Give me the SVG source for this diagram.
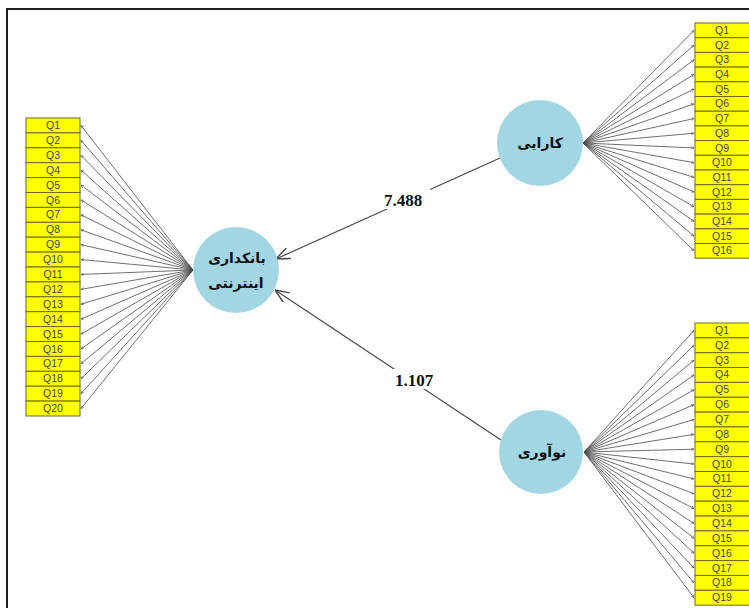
<svg xmlns="http://www.w3.org/2000/svg" width="749" height="608" viewBox="0 0 749 608">
<style>
.frame{fill:none;stroke:#222;stroke-width:2}
.box{fill:#ffff00;stroke:#6e6a1a;stroke-width:1}
.q{font-family:"Liberation Sans",Arial,sans-serif;font-size:10.5px;fill:#444;text-anchor:middle}
.lat{fill:#a3d6e3}
.lt{font-family:"DejaVu Sans","Noto Sans",sans-serif;font-size:14px;font-weight:bold;fill:#111;text-anchor:middle}
.ind{stroke:#4a4a4a;stroke-width:0.8;fill:none;marker-end:url(#sm)}
.path{stroke:#444;stroke-width:1.1;fill:none;marker-end:url(#big)}
.coef{font-family:"Liberation Serif","Times New Roman",serif;font-size:17px;font-weight:bold;fill:#111;text-anchor:middle}
</style>
<defs>
<marker id="sm" viewBox="0 0 4 4" refX="4" refY="2" markerWidth="3" markerHeight="3" orient="auto" markerUnits="userSpaceOnUse"><path d="M0,0 L4,2 L0,4" fill="none" stroke="#4a4a4a" stroke-width="0.7"/></marker>
<marker id="big" viewBox="0 0 12 10" refX="12" refY="5" markerWidth="14" markerHeight="12" orient="auto" markerUnits="userSpaceOnUse"><path d="M0,0 L12,5 L0,10" fill="none" stroke="#444" stroke-width="1.2"/></marker>
</defs>
<rect x="0" y="0" width="749" height="608" fill="#fff"/>
<rect class="frame" x="7" y="9" width="760" height="620"/>

<g id="connectors">
<line class="ind" x1="193" y1="270" x2="81" y2="125.45"/>
<line class="ind" x1="193" y1="270" x2="81" y2="140.35"/>
<line class="ind" x1="193" y1="270" x2="81" y2="155.25"/>
<line class="ind" x1="193" y1="270" x2="81" y2="170.15"/>
<line class="ind" x1="193" y1="270" x2="81" y2="185.05"/>
<line class="ind" x1="193" y1="270" x2="81" y2="199.95"/>
<line class="ind" x1="193" y1="270" x2="81" y2="214.85"/>
<line class="ind" x1="193" y1="270" x2="81" y2="229.75"/>
<line class="ind" x1="193" y1="270" x2="81" y2="244.65"/>
<line class="ind" x1="193" y1="270" x2="81" y2="259.55"/>
<line class="ind" x1="193" y1="270" x2="81" y2="274.45"/>
<line class="ind" x1="193" y1="270" x2="81" y2="289.35"/>
<line class="ind" x1="193" y1="270" x2="81" y2="304.25"/>
<line class="ind" x1="193" y1="270" x2="81" y2="319.15"/>
<line class="ind" x1="193" y1="270" x2="81" y2="334.05"/>
<line class="ind" x1="193" y1="270" x2="81" y2="348.95"/>
<line class="ind" x1="193" y1="270" x2="81" y2="363.85"/>
<line class="ind" x1="193" y1="270" x2="81" y2="378.75"/>
<line class="ind" x1="193" y1="270" x2="81" y2="393.65"/>
<line class="ind" x1="193" y1="270" x2="81" y2="408.55"/>
<line class="ind" x1="583" y1="143" x2="694" y2="30.35"/>
<line class="ind" x1="583" y1="143" x2="694" y2="45.05"/>
<line class="ind" x1="583" y1="143" x2="694" y2="59.75"/>
<line class="ind" x1="583" y1="143" x2="694" y2="74.45"/>
<line class="ind" x1="583" y1="143" x2="694" y2="89.15"/>
<line class="ind" x1="583" y1="143" x2="694" y2="103.85"/>
<line class="ind" x1="583" y1="143" x2="694" y2="118.55"/>
<line class="ind" x1="583" y1="143" x2="694" y2="133.25"/>
<line class="ind" x1="583" y1="143" x2="694" y2="147.95"/>
<line class="ind" x1="583" y1="143" x2="694" y2="162.65"/>
<line class="ind" x1="583" y1="143" x2="694" y2="177.35"/>
<line class="ind" x1="583" y1="143" x2="694" y2="192.05"/>
<line class="ind" x1="583" y1="143" x2="694" y2="206.75"/>
<line class="ind" x1="583" y1="143" x2="694" y2="221.45"/>
<line class="ind" x1="583" y1="143" x2="694" y2="236.15"/>
<line class="ind" x1="583" y1="143" x2="694" y2="250.85"/>
<line class="ind" x1="584" y1="452" x2="694" y2="330.4"/>
<line class="ind" x1="584" y1="452" x2="694" y2="345.25"/>
<line class="ind" x1="584" y1="452" x2="694" y2="360.1"/>
<line class="ind" x1="584" y1="452" x2="694" y2="374.95"/>
<line class="ind" x1="584" y1="452" x2="694" y2="389.8"/>
<line class="ind" x1="584" y1="452" x2="694" y2="404.65"/>
<line class="ind" x1="584" y1="452" x2="694" y2="419.5"/>
<line class="ind" x1="584" y1="452" x2="694" y2="434.35"/>
<line class="ind" x1="584" y1="452" x2="694" y2="449.2"/>
<line class="ind" x1="584" y1="452" x2="694" y2="464.05"/>
<line class="ind" x1="584" y1="452" x2="694" y2="478.9"/>
<line class="ind" x1="584" y1="452" x2="694" y2="493.75"/>
<line class="ind" x1="584" y1="452" x2="694" y2="508.6"/>
<line class="ind" x1="584" y1="452" x2="694" y2="523.45"/>
<line class="ind" x1="584" y1="452" x2="694" y2="538.3"/>
<line class="ind" x1="584" y1="452" x2="694" y2="553.15"/>
<line class="ind" x1="584" y1="452" x2="694" y2="568"/>
<line class="ind" x1="584" y1="452" x2="694" y2="582.85"/>
<line class="ind" x1="584" y1="452" x2="694" y2="597.7"/>
<line class="path" x1="500" y1="158" x2="276" y2="259"/>
<line class="path" x1="501" y1="440" x2="275" y2="290"/>
<rect x="376" y="189" width="54" height="20" fill="#fff"/>
<text class="coef" x="403" y="206">7.488</text>
<rect x="388" y="369" width="52" height="20" fill="#fff"/>
<text class="coef" x="414" y="386">1.107</text>
</g>

<g id="n_bank"><circle class="lat" cx="236" cy="270" r="43"/><text class="lt" x="237" y="263" direction="rtl">بانکداری</text><text class="lt" x="236" y="288" direction="rtl">اینترنتی</text></g>
<g id="n_karaei"><circle class="lat" cx="540" cy="143" r="43"/><text class="lt" x="540" y="148" direction="rtl">کارایی</text></g>
<g id="n_noavari"><circle class="lat" cx="541" cy="452" r="42"/><text class="lt" x="542" y="457" direction="rtl">نوآوری</text></g>

<g id="left_items">
<g id="L1"><rect class="box" x="26" y="118" width="54" height="14.9"/><text class="q" x="53" y="129">Q1</text></g>
<g id="L2"><rect class="box" x="26" y="132.9" width="54" height="14.9"/><text class="q" x="53" y="143.9">Q2</text></g>
<g id="L3"><rect class="box" x="26" y="147.8" width="54" height="14.9"/><text class="q" x="53" y="158.8">Q3</text></g>
<g id="L4"><rect class="box" x="26" y="162.7" width="54" height="14.9"/><text class="q" x="53" y="173.7">Q4</text></g>
<g id="L5"><rect class="box" x="26" y="177.6" width="54" height="14.9"/><text class="q" x="53" y="188.6">Q5</text></g>
<g id="L6"><rect class="box" x="26" y="192.5" width="54" height="14.9"/><text class="q" x="53" y="203.5">Q6</text></g>
<g id="L7"><rect class="box" x="26" y="207.4" width="54" height="14.9"/><text class="q" x="53" y="218.4">Q7</text></g>
<g id="L8"><rect class="box" x="26" y="222.3" width="54" height="14.9"/><text class="q" x="53" y="233.3">Q8</text></g>
<g id="L9"><rect class="box" x="26" y="237.2" width="54" height="14.9"/><text class="q" x="53" y="248.2">Q9</text></g>
<g id="L10"><rect class="box" x="26" y="252.1" width="54" height="14.9"/><text class="q" x="53" y="263.1">Q10</text></g>
<g id="L11"><rect class="box" x="26" y="267" width="54" height="14.9"/><text class="q" x="53" y="278">Q11</text></g>
<g id="L12"><rect class="box" x="26" y="281.9" width="54" height="14.9"/><text class="q" x="53" y="292.9">Q12</text></g>
<g id="L13"><rect class="box" x="26" y="296.8" width="54" height="14.9"/><text class="q" x="53" y="307.8">Q13</text></g>
<g id="L14"><rect class="box" x="26" y="311.7" width="54" height="14.9"/><text class="q" x="53" y="322.7">Q14</text></g>
<g id="L15"><rect class="box" x="26" y="326.6" width="54" height="14.9"/><text class="q" x="53" y="337.6">Q15</text></g>
<g id="L16"><rect class="box" x="26" y="341.5" width="54" height="14.9"/><text class="q" x="53" y="352.5">Q16</text></g>
<g id="L17"><rect class="box" x="26" y="356.4" width="54" height="14.9"/><text class="q" x="53" y="367.4">Q17</text></g>
<g id="L18"><rect class="box" x="26" y="371.3" width="54" height="14.9"/><text class="q" x="53" y="382.3">Q18</text></g>
<g id="L19"><rect class="box" x="26" y="386.2" width="54" height="14.9"/><text class="q" x="53" y="397.2">Q19</text></g>
<g id="L20"><rect class="box" x="26" y="401.1" width="54" height="14.9"/><text class="q" x="53" y="412.1">Q20</text></g>
</g>

<g id="top_items">
<g id="T1"><rect class="box" x="695" y="23" width="56" height="14.7"/><text class="q" x="722" y="33.9">Q1</text></g>
<g id="T2"><rect class="box" x="695" y="37.7" width="56" height="14.7"/><text class="q" x="722" y="48.6">Q2</text></g>
<g id="T3"><rect class="box" x="695" y="52.4" width="56" height="14.7"/><text class="q" x="722" y="63.3">Q3</text></g>
<g id="T4"><rect class="box" x="695" y="67.1" width="56" height="14.7"/><text class="q" x="722" y="78">Q4</text></g>
<g id="T5"><rect class="box" x="695" y="81.8" width="56" height="14.7"/><text class="q" x="722" y="92.7">Q5</text></g>
<g id="T6"><rect class="box" x="695" y="96.5" width="56" height="14.7"/><text class="q" x="722" y="107.4">Q6</text></g>
<g id="T7"><rect class="box" x="695" y="111.2" width="56" height="14.7"/><text class="q" x="722" y="122.1">Q7</text></g>
<g id="T8"><rect class="box" x="695" y="125.9" width="56" height="14.7"/><text class="q" x="722" y="136.8">Q8</text></g>
<g id="T9"><rect class="box" x="695" y="140.6" width="56" height="14.7"/><text class="q" x="722" y="151.5">Q9</text></g>
<g id="T10"><rect class="box" x="695" y="155.3" width="56" height="14.7"/><text class="q" x="722" y="166.2">Q10</text></g>
<g id="T11"><rect class="box" x="695" y="170" width="56" height="14.7"/><text class="q" x="722" y="180.9">Q11</text></g>
<g id="T12"><rect class="box" x="695" y="184.7" width="56" height="14.7"/><text class="q" x="722" y="195.6">Q12</text></g>
<g id="T13"><rect class="box" x="695" y="199.4" width="56" height="14.7"/><text class="q" x="722" y="210.3">Q13</text></g>
<g id="T14"><rect class="box" x="695" y="214.1" width="56" height="14.7"/><text class="q" x="722" y="225">Q14</text></g>
<g id="T15"><rect class="box" x="695" y="228.8" width="56" height="14.7"/><text class="q" x="722" y="239.7">Q15</text></g>
<g id="T16"><rect class="box" x="695" y="243.5" width="56" height="14.7"/><text class="q" x="722" y="254.4">Q16</text></g>
</g>

<g id="bottom_items">
<g id="B1"><rect class="box" x="695" y="323" width="56" height="14.85"/><text class="q" x="722" y="333.9">Q1</text></g>
<g id="B2"><rect class="box" x="695" y="337.85" width="56" height="14.85"/><text class="q" x="722" y="348.75">Q2</text></g>
<g id="B3"><rect class="box" x="695" y="352.7" width="56" height="14.85"/><text class="q" x="722" y="363.6">Q3</text></g>
<g id="B4"><rect class="box" x="695" y="367.55" width="56" height="14.85"/><text class="q" x="722" y="378.45">Q4</text></g>
<g id="B5"><rect class="box" x="695" y="382.4" width="56" height="14.85"/><text class="q" x="722" y="393.3">Q5</text></g>
<g id="B6"><rect class="box" x="695" y="397.25" width="56" height="14.85"/><text class="q" x="722" y="408.15">Q6</text></g>
<g id="B7"><rect class="box" x="695" y="412.1" width="56" height="14.85"/><text class="q" x="722" y="423">Q7</text></g>
<g id="B8"><rect class="box" x="695" y="426.95" width="56" height="14.85"/><text class="q" x="722" y="437.85">Q8</text></g>
<g id="B9"><rect class="box" x="695" y="441.8" width="56" height="14.85"/><text class="q" x="722" y="452.7">Q9</text></g>
<g id="B10"><rect class="box" x="695" y="456.65" width="56" height="14.85"/><text class="q" x="722" y="467.55">Q10</text></g>
<g id="B11"><rect class="box" x="695" y="471.5" width="56" height="14.85"/><text class="q" x="722" y="482.4">Q11</text></g>
<g id="B12"><rect class="box" x="695" y="486.35" width="56" height="14.85"/><text class="q" x="722" y="497.25">Q12</text></g>
<g id="B13"><rect class="box" x="695" y="501.2" width="56" height="14.85"/><text class="q" x="722" y="512.1">Q13</text></g>
<g id="B14"><rect class="box" x="695" y="516.05" width="56" height="14.85"/><text class="q" x="722" y="526.95">Q14</text></g>
<g id="B15"><rect class="box" x="695" y="530.9" width="56" height="14.85"/><text class="q" x="722" y="541.8">Q15</text></g>
<g id="B16"><rect class="box" x="695" y="545.75" width="56" height="14.85"/><text class="q" x="722" y="556.65">Q16</text></g>
<g id="B17"><rect class="box" x="695" y="560.6" width="56" height="14.85"/><text class="q" x="722" y="571.5">Q17</text></g>
<g id="B18"><rect class="box" x="695" y="575.45" width="56" height="14.85"/><text class="q" x="722" y="586.35">Q18</text></g>
<g id="B19"><rect class="box" x="695" y="590.3" width="56" height="14.85"/><text class="q" x="722" y="601.2">Q19</text></g>
</g>
</svg>
